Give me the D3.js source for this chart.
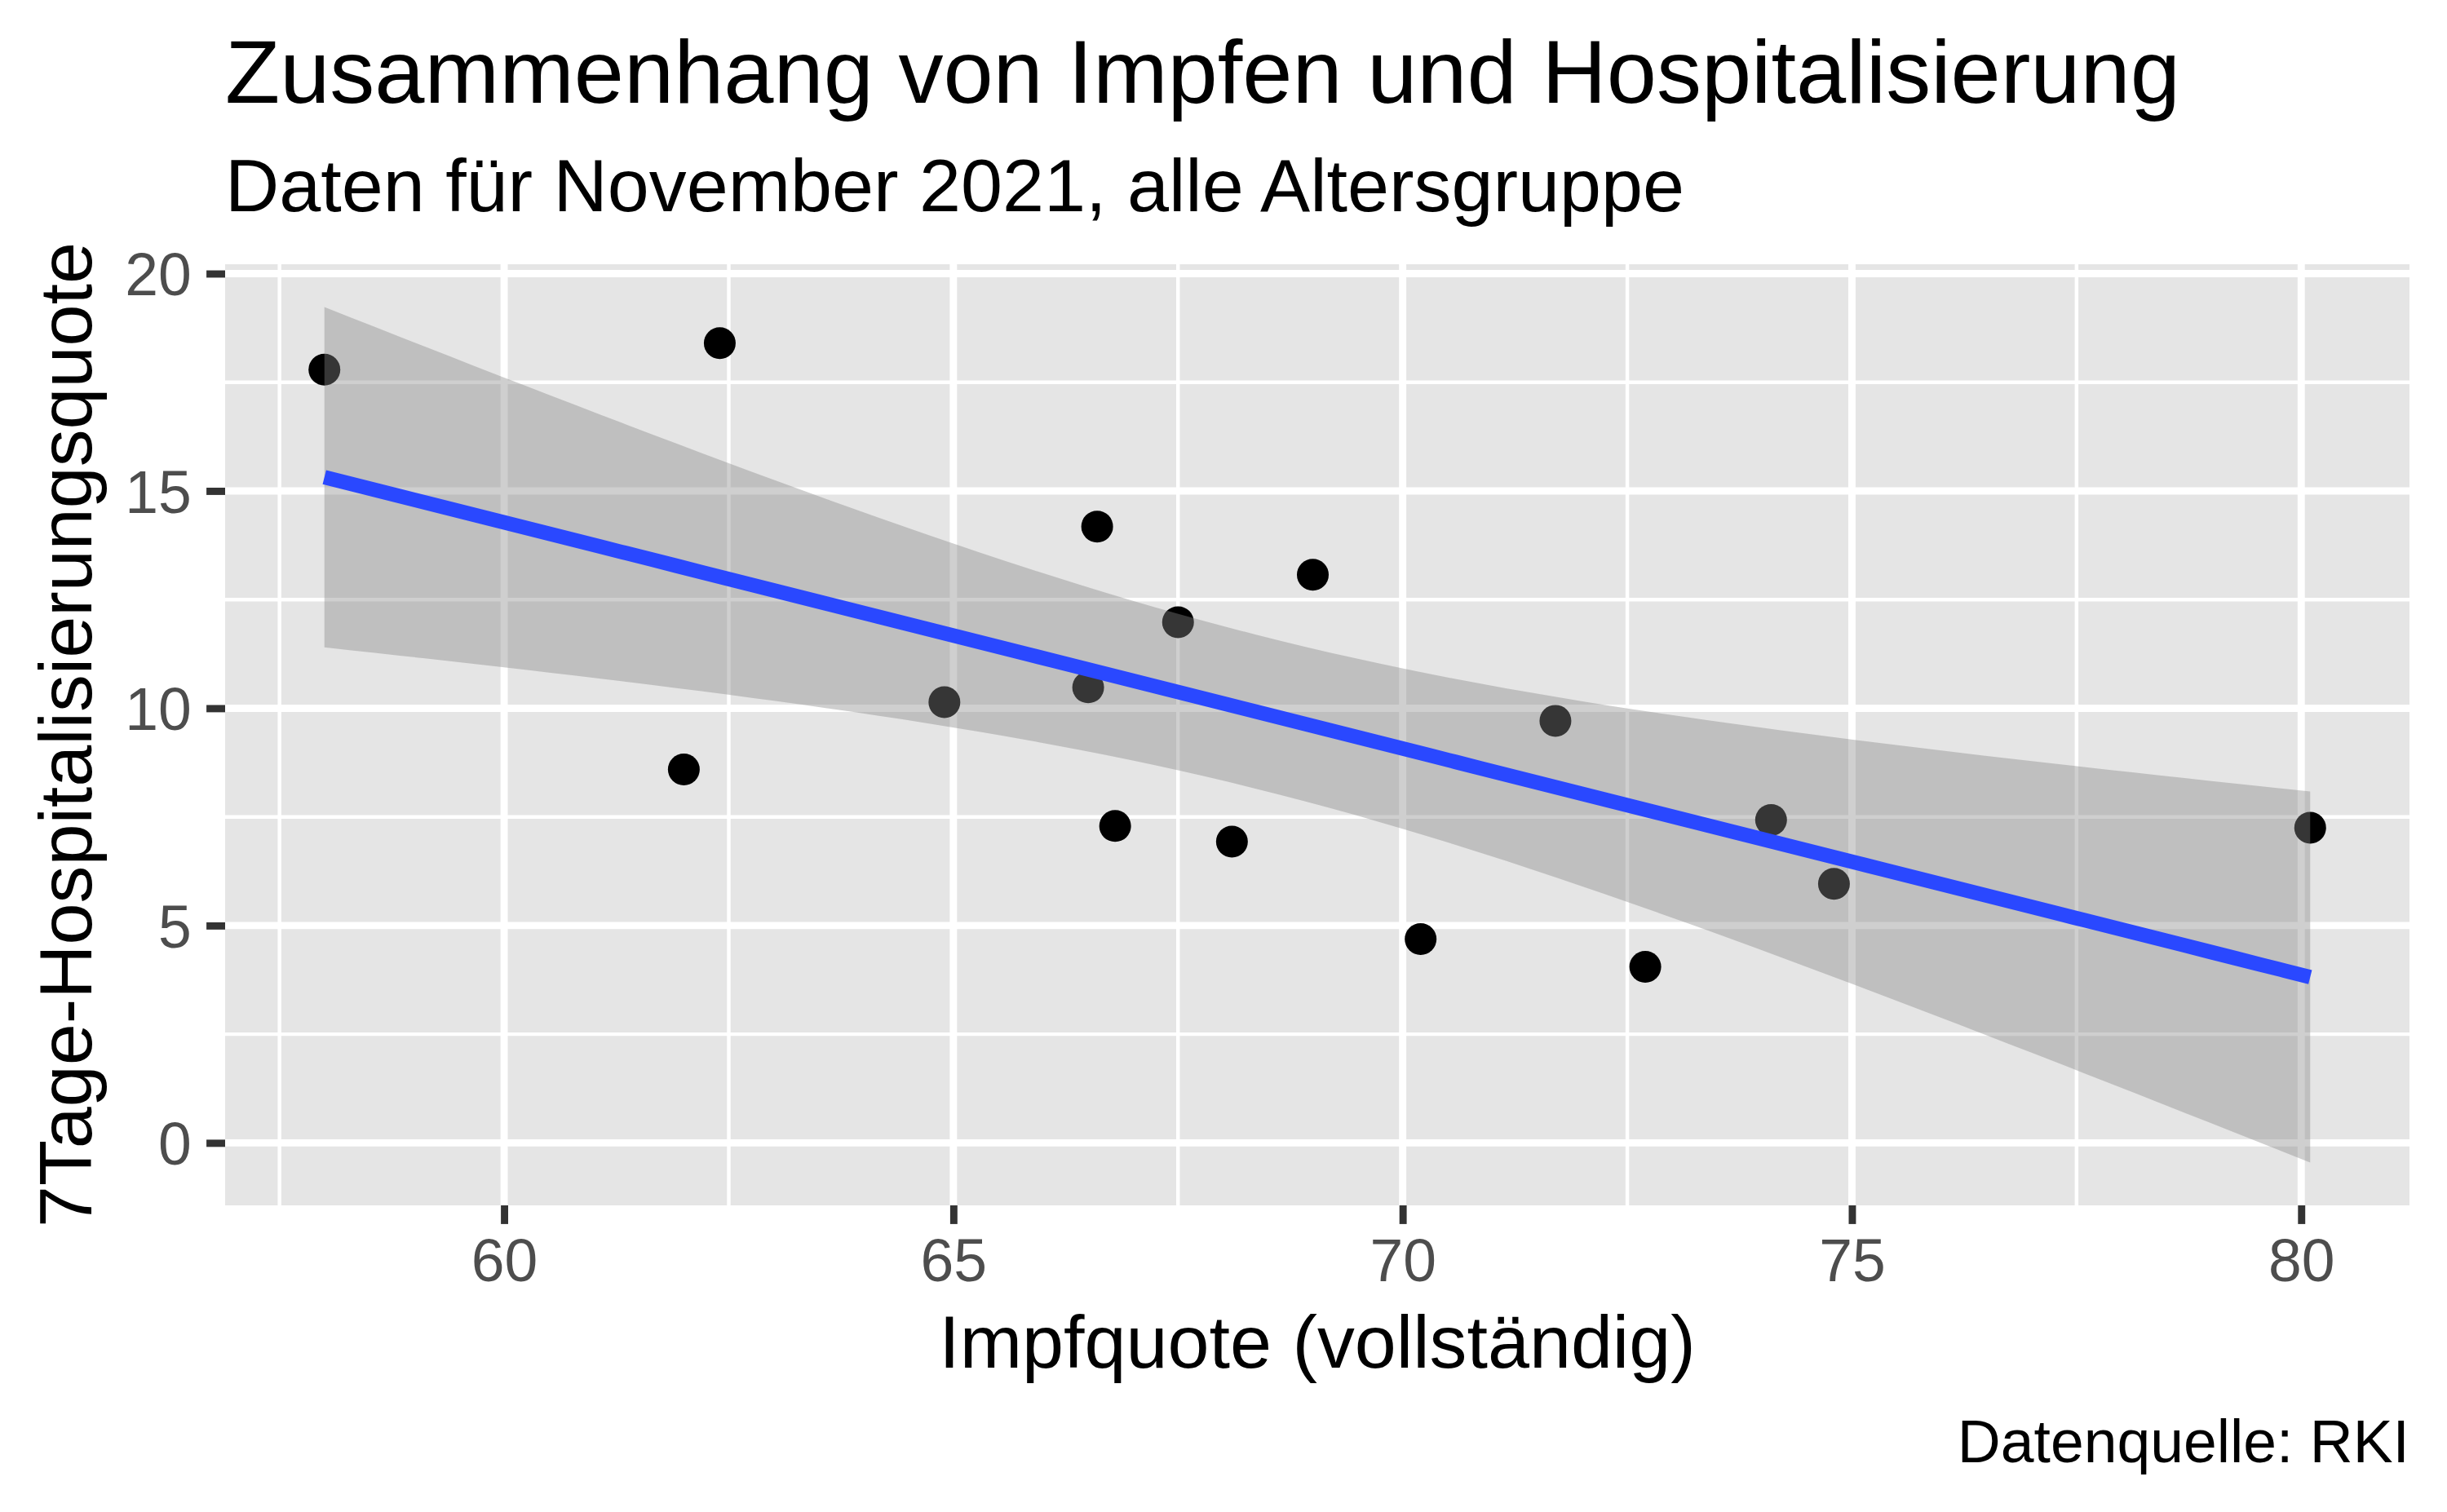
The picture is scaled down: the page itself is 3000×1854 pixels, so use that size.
<!DOCTYPE html>
<html lang="de">
<head>
  <meta charset="UTF-8">
  <title>Zusammenhang von Impfen und Hospitalisierung</title>
  <style>
    body { margin: 0; background: #fff; }
    svg text { font-family: "Liberation Sans", Arial, sans-serif; }
    .tick text { fill: #4D4D4D; font-size: 73.3px; }
    .tick line { stroke: #333333; stroke-width: 8.9; }
  </style>
</head>
<body>
  <svg id="chart" width="3000" height="1854"></svg>

  <script src="https://d3js.org/d3.v7.min.js"></script>
  <script>
    // Impfquote (vollständig) je Bundesland
    const impfquote = [58.0, 62.4, 62.0, 64.9, 66.5, 66.6, 66.8, 67.5,
                       68.1, 69.0, 70.2, 71.7, 72.7, 74.1, 74.8, 80.1];
    // 7-Tage-Hospitalisierungsquote
    const hospQuote = [17.79, 18.40, 8.59, 10.14, 10.48, 14.18, 7.29, 11.98,
                       6.93, 13.07, 4.69, 9.71, 4.05, 7.43, 5.96, 7.25];
    const xTicks = [60, 65, 70, 75, 80];
    const yTicks = [0, 5, 10, 15, 20];

    // Seitenaufbau (Pixel)
    const W = 3000, H = 1854;
    const panel = {left: 276, right: 2954, top: 324, bottom: 1478};
    const svg = d3.select('#chart');

    // lineare Regression mit 95%-Konfidenzband (wie geom_smooth(method = "lm"))
    const n = impfquote.length;
    const mx = d3.mean(impfquote), my = d3.mean(hospQuote);
    let sxx = 0, sxy = 0;
    impfquote.forEach((xv, i) => { sxx += (xv-mx)**2; sxy += (xv-mx)*(hospQuote[i]-my); });
    const slope = sxy/sxx, icpt = my - slope*mx;
    let sse = 0;
    impfquote.forEach((xv, i) => { sse += (hospQuote[i] - (icpt + slope*xv))**2; });
    const sres = Math.sqrt(sse/(n-2));
    const tq = 2.144787; // qt(0.975, df = 14)
    const [xmin, xmax] = d3.extent(impfquote);
    const smooth = d3.range(80).map(i => {
      const xv = xmin + (xmax-xmin)*i/79;
      const fit = icpt + slope*xv;
      const se = sres*Math.sqrt(1/n + (xv-mx)**2/sxx);
      return {x: xv, y: fit, lo: fit - tq*se, hi: fit + tq*se};
    });

    // Skalen mit 5% Erweiterung
    const expand = ([a, b]) => [a - (b-a)*0.05, b + (b-a)*0.05];
    const yAll = hospQuote.concat(smooth.map(d => d.lo), smooth.map(d => d.hi));
    const x = d3.scaleLinear().domain(expand([xmin, xmax])).range([panel.left, panel.right]);
    const y = d3.scaleLinear().domain(expand(d3.extent(yAll))).range([panel.bottom, panel.top]);

    const minor = (ticks, dom) => {
      const step = ticks[1]-ticks[0];
      return d3.range(ticks[0]-step/2, ticks[ticks.length-1]+step, step)
        .filter(v => v >= dom[0] && v <= dom[1]);
    };

    // Panel
    svg.append("rect")
      .attr("x", panel.left).attr("y", panel.top)
      .attr("width", panel.right-panel.left).attr("height", panel.bottom-panel.top)
      .attr("fill", "#E5E5E5");

    const grid = svg.append("g");
    minor(xTicks, x.domain()).forEach(v => grid.append("line")
      .attr("x1", x(v)).attr("x2", x(v)).attr("y1", panel.top).attr("y2", panel.bottom)
      .attr("stroke", "#fff").attr("stroke-width", 4.45));
    minor(yTicks, y.domain()).forEach(v => grid.append("line")
      .attr("y1", y(v)).attr("y2", y(v)).attr("x1", panel.left).attr("x2", panel.right)
      .attr("stroke", "#fff").attr("stroke-width", 4.45));
    xTicks.forEach(v => grid.append("line")
      .attr("x1", x(v)).attr("x2", x(v)).attr("y1", panel.top).attr("y2", panel.bottom)
      .attr("stroke", "#fff").attr("stroke-width", 8.9));
    yTicks.forEach(v => grid.append("line")
      .attr("y1", y(v)).attr("y2", y(v)).attr("x1", panel.left).attr("x2", panel.right)
      .attr("stroke", "#fff").attr("stroke-width", 8.9));

    // Punkte
    svg.append("g").selectAll("circle")
      .data(impfquote.map((xv, i) => [xv, hospQuote[i]]))
      .join("circle")
      .attr("cx", d => x(d[0])).attr("cy", d => y(d[1]))
      .attr("r", 19.5).attr("fill", "#000");

    // Konfidenzband + Regressionslinie
    svg.append("path").datum(smooth)
      .attr("d", d3.area().x(d => x(d.x)).y0(d => y(d.lo)).y1(d => y(d.hi)))
      .attr("fill", "#888888").attr("fill-opacity", 0.4);
    svg.append("path").datum(smooth)
      .attr("d", d3.line().x(d => x(d.x)).y(d => y(d.y)))
      .attr("fill", "none").attr("stroke", "#2A48FF").attr("stroke-width", 17.8);

    // Achsen
    const ax = svg.append("g").attr("transform", `translate(0,${panel.bottom})`)
      .call(d3.axisBottom(x).tickValues(xTicks).tickSize(22.9).tickPadding(18.3));
    const ay = svg.append("g").attr("transform", `translate(${panel.left},0)`)
      .call(d3.axisLeft(y).tickValues(yTicks).tickSize(22.9).tickPadding(18.3));
    [ax, ay].forEach(a => { a.select(".domain").remove(); a.attr("font-family", null).attr("font-size", null); });
    ay.selectAll(".tick text").attr("dy", "0.36em");

    // Beschriftungen
    svg.append("text").attr("x", panel.left).attr("y", 126)
      .attr("font-size", 110).attr("fill", "#000")
      .text("Zusammenhang von Impfen und Hospitalisierung");
    svg.append("text").attr("x", panel.left).attr("y", 259)
      .attr("font-size", 91.7).attr("fill", "#000")
      .text("Daten für November 2021, alle Altersgruppe");
    svg.append("text").attr("x", (panel.left+panel.right)/2).attr("y", 1677)
      .attr("text-anchor", "middle").attr("font-size", 91.7).attr("fill", "#000")
      .text("Impfquote (vollständig)");
    svg.append("text")
      .attr("transform", `translate(112,${(panel.top+panel.bottom)/2}) rotate(-90)`)
      .attr("text-anchor", "middle").attr("font-size", 91.7).attr("fill", "#000")
      .text("7Tage-Hospitalisierungsquote");
    svg.append("text").attr("x", panel.right).attr("y", 1793)
      .attr("text-anchor", "end").attr("font-size", 73.3).attr("fill", "#000")
      .text("Datenquelle: RKI");
  </script>
</body>
</html>
